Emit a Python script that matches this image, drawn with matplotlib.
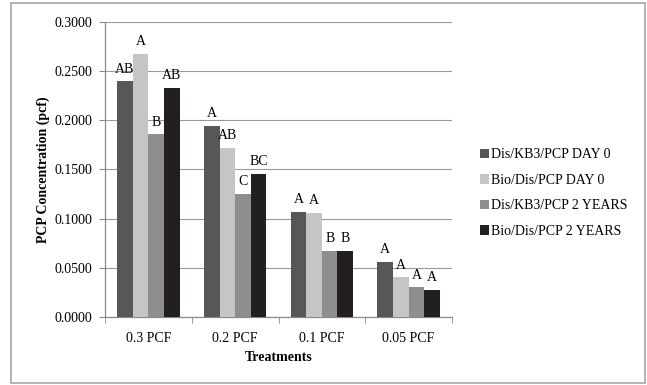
import numpy as np
import matplotlib.pyplot as plt
from matplotlib.patches import Rectangle

# ---------------- DATA ----------------

treatments = ["0.3 PCF", "0.2 PCF", "0.1 PCF", "0.05 PCF"]
series_names = [
    "Dis/KB3/PCP DAY 0",
    "Bio/Dis/PCP DAY 0",
    "Dis/KB3/PCP 2 YEARS",
    "Bio/Dis/PCP 2 YEARS",
]
dis_kb3_day0 = [0.2400, 0.1945, 0.1068, 0.0558]
bio_dis_day0 = [0.2680, 0.1722, 0.1058, 0.0401]
dis_kb3_2yr = [0.1860, 0.1255, 0.0670, 0.0299]
bio_dis_2yr = [0.2333, 0.1458, 0.0672, 0.0276]

# significance letters per series
letters_kb3_day0 = ["AB", "A", "A", "A"]
letters_bio_day0 = ["A", "AB", "A", "A"]
letters_kb3_2yr = ["B", "C", "B", "A"]
letters_bio_2yr = ["AB", "BC", "B", "A"]

# --------------------------------------

plt.rcParams["font.family"] = ["Liberation Serif", "DejaVu Serif"]
plt.rcParams["font.size"] = 10

colors = ["#575757", "#c5c5c5", "#8e8e8e", "#231f20"]
values = [dis_kb3_day0, bio_dis_day0, dis_kb3_2yr, bio_dis_2yr]
letters = [letters_kb3_day0, letters_bio_day0, letters_kb3_2yr, letters_bio_2yr]

fig = plt.figure(figsize=(6.47, 3.85), dpi=100)
ax = fig.add_axes([0.1623, 0.1774, 0.5363, 0.7647])

# outer chart border
fig.patches.append(Rectangle((11 / 647, 2 / 385), 634 / 647, 380 / 385,
                             transform=fig.transFigure, fill=False,
                             edgecolor="#a6a6a6", linewidth=1.2))

x = np.arange(len(treatments))
width = 0.18
offsets = [-1.5 * width, -0.5 * width, 0.5 * width, 1.5 * width]

for vals, labs, col, off, name in zip(values, letters, colors, offsets, series_names):
    bars = ax.bar(x + off, vals, width, color=col, label=name, zorder=3)
    for b, lab in zip(bars, labs):
        ax.annotate(lab, (b.get_x() + b.get_width() / 2, b.get_height()),
                    xytext=(0, 4), textcoords="offset points",
                    ha="center", va="bottom", fontsize=10, zorder=4)

ax.set_xlim(-0.5, len(treatments) - 0.5)
ax.set_ylim(0, 0.3)
ax.set_yticks(np.arange(0, 0.3001, 0.05))
ax.set_yticklabels([f"{v:.4f}" for v in np.arange(0, 0.3001, 0.05)])
ax.yaxis.grid(True, color="#9a9a9a", linewidth=0.8, zorder=0)

ax.set_xticks(x)
ax.set_xticklabels(treatments)
ax.set_xticks(np.arange(-0.5, len(treatments), 1.0), minor=True)
ax.tick_params(axis="x", which="major", length=0, pad=11)
ax.tick_params(axis="x", which="minor", length=4, color="#8a8a8a")
ax.tick_params(axis="y", length=4, color="#8a8a8a", pad=5)

for side in ["top", "right"]:
    ax.spines[side].set_visible(False)
for side in ["left", "bottom"]:
    ax.spines[side].set_color("#8a8a8a")
    ax.spines[side].set_linewidth(0.9)

ax.set_xlabel("Treatments", fontweight="bold", labelpad=4)
ax.set_ylabel("PCP Concentration (pcf)", fontweight="bold", labelpad=3)

fig.legend(loc="center left", bbox_to_anchor=(467 / 647, 1 - 193 / 385),
           frameon=False, handlelength=0.7, handleheight=0.7,
           handletextpad=0.1, labelspacing=0.9, fontsize=10)

plt.savefig("out.png", dpi=100)
plt.close()
